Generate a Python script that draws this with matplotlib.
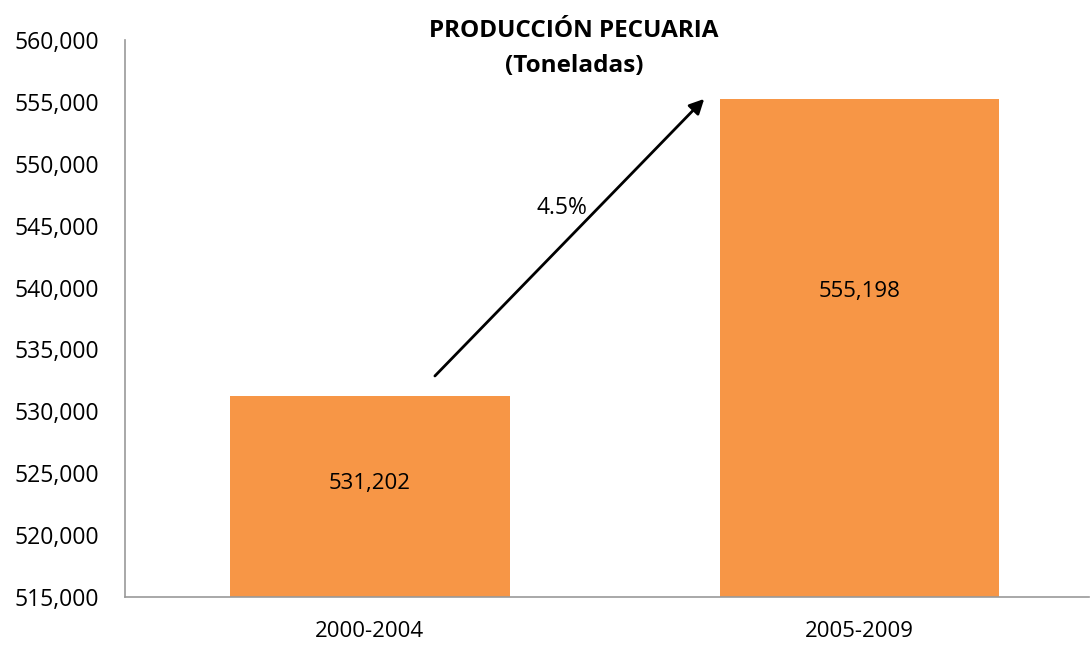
import matplotlib
matplotlib.use('Agg')
import matplotlib.pyplot as plt
from matplotlib.ticker import FuncFormatter

plt.rcParams['font.family'] = ['Open Sans', 'DejaVu Sans']

# datos
periodos = ['2000-2004', '2005-2009']
toneladas = [531202, 555198]
crecimiento = '4.5%'

fig = plt.figure(figsize=(10.91, 6.47), dpi=100)
ax = fig.add_axes([0.1146, 0.0773, 0.884, 0.861])

x = range(len(periodos))
ax.bar(x, toneladas, width=0.571, color='#F79646')

ax.set_xlim(-0.5, 1.47)
ax.set_ylim(515000, 560000)
ax.set_yticks(range(515000, 560001, 5000))
ax.yaxis.set_major_formatter(FuncFormatter(lambda v, p: f'{v:,.0f}'))
ax.set_xticks(list(x))
ax.set_xticklabels(periodos)
ax.tick_params(axis='both', length=0, labelsize=16.5, colors='black')
ax.tick_params(axis='x', pad=17, labelsize=16)
ax.tick_params(axis='y', pad=19)

for s in ['top', 'right']:
    ax.spines[s].set_visible(False)
for s in ['left', 'bottom']:
    ax.spines[s].set_color('#999999')
    ax.spines[s].set_linewidth(1.2)

# etiquetas de valor (posición como en el original)
label_y = [524130, 539640]
for i, v in enumerate(toneladas):
    ax.text(i, label_y[i], f'{v:,}', ha='center', va='center', fontsize=16)

# flecha de crecimiento
ax.annotate('', xy=(0.687, 555395), xytext=(0.129, 532693),
            arrowprops=dict(arrowstyle='-|>', color='black', lw=2, mutation_scale=22))
ax.text(0.392, 546427, crecimiento, ha='center', va='center', fontsize=16.5)

fig.text(0.526, 0.925, 'PRODUCCIÓN PECUARIA\n(Toneladas)', ha='center', va='center',
         fontsize=17.5, fontweight='bold', linespacing=1.65)

fig.savefig('out.png', dpi=100)
